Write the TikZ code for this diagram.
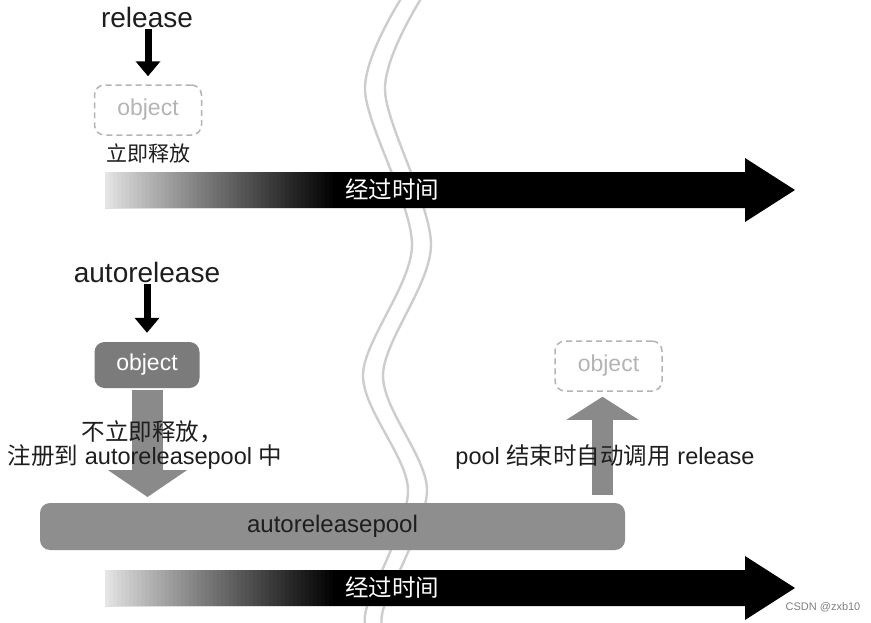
\documentclass[tikz,border=0pt]{standalone}
\usepackage{fontspec}
\setmainfont{Liberation Sans}
\newfontfamily\cjk{Noto Sans CJK SC}
\usetikzlibrary{arrows.meta}
\definecolor{wave}{HTML}{CDCDCD}
\definecolor{objfill}{HTML}{7B7B7B}
\definecolor{poolfill}{HTML}{8E8E8E}
\definecolor{garrow}{HTML}{8A8A8A}
\definecolor{ghost}{HTML}{B4B4B4}
\definecolor{ink}{HTML}{1E1E1E}
\tikzset{
  big/.style={font=\fontsize{28}{30}\selectfont, text=ink, inner sep=0pt},
  lbl/.style={font=\fontsize{23.5}{26}\selectfont, text=ink, inner sep=0pt},
  ghostbox/.style={draw=ghost, line width=1.5pt, dash pattern=on 6pt off 4pt,
    rounded corners=10pt, minimum width=107pt, minimum height=50pt,
    text=ghost, font=\fontsize{23}{25}\selectfont},
  objbox/.style={fill=objfill, rounded corners=10pt, minimum width=105pt,
    minimum height=46pt, text=white, font=\fontsize{23}{25}\selectfont},
  poolbar/.style={fill=poolfill, rounded corners=10pt, minimum width=585pt,
    minimum height=47pt, text=ink, font=\fontsize{24}{26}\selectfont},
  timetxt/.style={text=white, font=\cjk\fontsize{23.5}{26}\selectfont, inner sep=0pt},
  blackarrow/.style={draw=black, line width=7pt, -{Triangle[width=24pt,length=15pt]}},
  grayarrow/.style={draw=garrow, line width=31pt, -{Triangle[width=78pt,length=27pt]}},
  grayuparrow/.style={draw=garrow, line width=21pt, -{Triangle[width=71pt,length=23pt]}},
  wavy/.style={draw=wave, line width=2.4pt, smooth},
}
\begin{document}
\begin{tikzpicture}[x=1pt,y=-1pt]
\useasboundingbox[fill=white] (0,0) rectangle (871,622);

% wavy break lines
\draw[wavy] plot coordinates {(404,-6) (365,90) (412,245) (363,375) (408,490) (366,610) (372,640)};
\draw[wavy] plot coordinates {(424,-6) (385,90) (431,245) (383,375) (427,490) (383,610) (388,640)};

% time arrow 1
\fill[black] (105,172) -- (745,172) -- (745,158) -- (795,190) -- (745,222) -- (745,208) -- (105,208) -- cycle;
\foreach \i in {0,...,57} {
  \pgfmathsetmacro{\p}{min(100,10+90*(\i/57)^0.9)}
  \fill[black!\p] (105+4*\i,172) rectangle (109.6+4*\i,208);
}
\node[timetxt] (t1) at (392,190) {经过时间};

% time arrow 2
\fill[black] (105,570) -- (745,570) -- (745,556) -- (795,588) -- (745,620) -- (745,606) -- (105,606) -- cycle;
\foreach \i in {0,...,57} {
  \pgfmathsetmacro{\p}{min(100,10+90*(\i/57)^0.9)}
  \fill[black!\p] (105+4*\i,570) rectangle (109.6+4*\i,606);
}
\node[timetxt] (t2) at (392,588) {经过时间};

% pool bar
\node[poolbar] (pool) at (332.5,526.5) {autoreleasepool};

% top: release
\node[big] (rel) at (147,17) {release};
\node[ghostbox] (obj1) at (148,110) {object};
\draw[blackarrow, shorten <=2pt, shorten >=8pt] (rel.south -| obj1.north) -- (obj1.north);
\node[lbl, font=\cjk\fontsize{21}{24}\selectfont] (imm) at (148,153) {立即释放};

% autorelease
\node[big] (auto) at (147,272) {autorelease};
\node[objbox] (obj2) at (147,365) {object};
\draw[blackarrow, shorten <=2pt, shorten >=9pt] (auto.south -| obj2.north) -- (obj2.north);

\coordinate (downend) at (147.5,503);
\draw[grayarrow, shorten <=2pt, shorten >=6pt] (obj2.south -| downend) -- (downend);

\node[ghostbox] (obj3) at (608.5,366) {object};
\coordinate (upstart) at (602.5,503);
\draw[grayuparrow, shorten <=8pt, shorten >=5pt] (upstart) -- (upstart |- obj3.south);

% labels
\node[lbl] (reg1) at (152,432) {\cjk 不立即释放，};
\node[lbl] (reg2) at (145,457) {{\cjk 注册到} autoreleasepool {\cjk 中}};
\node[lbl] (end) at (605,457) {pool {\cjk 结束时自动调用} release};

\node[text=gray, font=\fontsize{11}{12}\selectfont, inner sep=0pt] (csdn) at (823,607) {CSDN @zxb10};
\end{tikzpicture}
\end{document}
